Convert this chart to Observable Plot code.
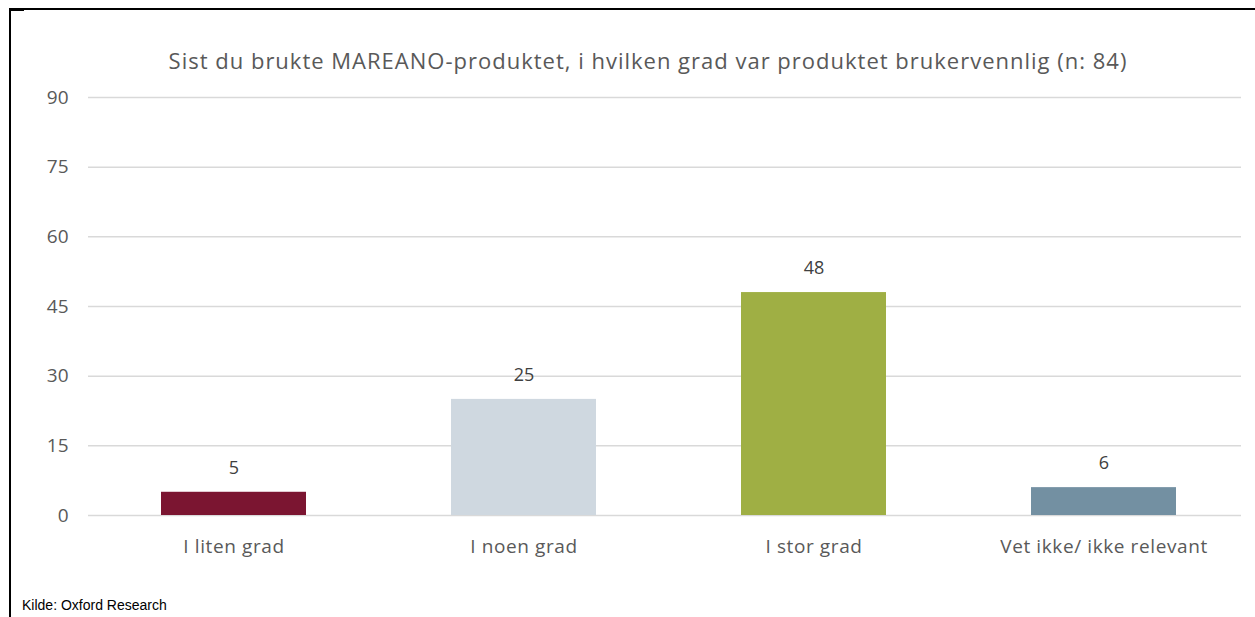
<!DOCTYPE html>
<html><head><meta charset="utf-8">
<script src="https://cdn.jsdelivr.net/npm/d3@7"></script>
<script src="https://cdn.jsdelivr.net/npm/@observablehq/plot@0.6"></script>
<style>
body{margin:0;background:#fff;}
#wrap{position:relative;width:1255px;height:617px;overflow:hidden;background:#fff;}
#title{position:absolute;top:45px;left:0;width:1296px;text-align:center;font-family:"Open Sans",sans-serif;font-size:22px;letter-spacing:1px;color:#595959;white-space:nowrap;}
#chart{position:absolute;top:80px;left:0;}
#caption{position:absolute;top:597px;left:22px;font-family:"Liberation Sans",Arial,sans-serif;font-size:14px;color:#000;}
#chart g[aria-label="x-axis tick label"] text{letter-spacing:0.6px;}
.bt{position:absolute;left:9px;top:8px;width:1246px;height:2px;background:#000;}
.bl{position:absolute;left:9px;top:8px;width:2px;height:609px;background:#000;}
.bs{position:absolute;left:9px;top:10px;width:15px;height:1px;background:#000;}
</style></head>
<body>
<div id="wrap">
<div class="bt"></div><div class="bl"></div><div class="bs"></div>
<div id="title">Sist du brukte MAREANO-produktet, i hvilken grad var produktet  brukervennlig (n: 84)</div>
<div id="chart"></div>
<div id="caption">Kilde: Oxford Research</div>
</div>
<script>
const categories = ["I liten grad", "I noen grad", "I stor grad", "Vet ikke/ ikke relevant"];
const values = [5, 25, 48, 6];
const colors = ["#7B1531", "#CFD8E0", "#9FAF44", "#7390A2"];
const yTicks = [0, 15, 30, 45, 60, 75, 90];

const data = categories.map((c, i) => ({category: c, value: values[i], color: colors[i]}));

const chart = Plot.plot({
  width: 1255,
  height: 500,
  marginTop: 17,
  marginBottom: 65,
  marginLeft: 88,
  marginRight: 7,
  style: {fontFamily: "'Open Sans', sans-serif", fontSize: "18px", color: "#595959", background: "transparent"},
  x: {domain: categories, paddingInner: 0.5, paddingOuter: 0.25, label: null},
  y: {domain: [0, 90], ticks: yTicks, label: null},
  marks: [
    Plot.ruleY(yTicks, {stroke: "#D9D9D9", strokeWidth: 1.5, insetRight: 7}),
    Plot.axisY(yTicks, {tickSize: 0, tickPadding: 20, fontSize: 19, label: null}),
    Plot.axisX({tickSize: 0, tickPadding: 24, fontSize: 19, label: null}),
    Plot.barY(data, {x: "category", y: "value", fill: "color"}),
    Plot.text(data, {x: "category", y: "value", text: d => String(d.value), dy: -24, fill: "#404040", fontSize: 18})
  ]
});
document.getElementById("chart").appendChild(chart);
</script>
</body></html>
